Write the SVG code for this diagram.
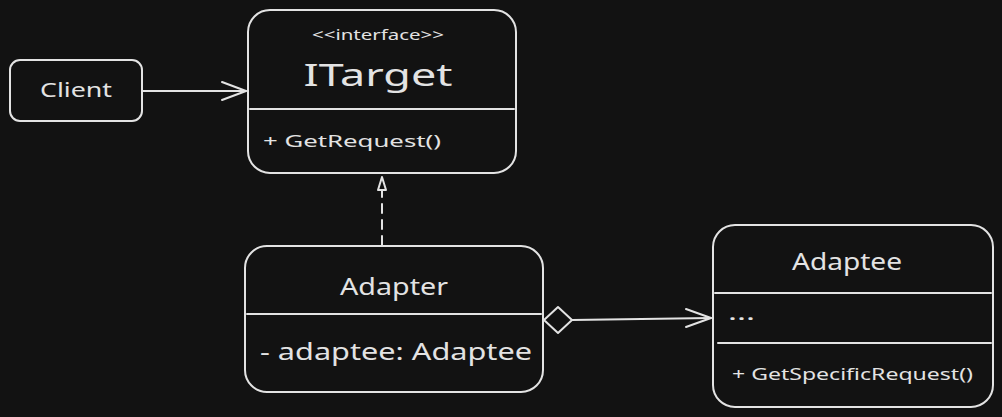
<svg xmlns="http://www.w3.org/2000/svg" width="1002" height="417" viewBox="0 0 1002 417">
<style>
.box{fill:#121212;stroke:#e3e3e3;stroke-width:2}
.ln{stroke:#e3e3e3;stroke-width:2;fill:none;stroke-linecap:round;stroke-linejoin:round}
text{fill:#e3e3e3;font-family:"Noto Sans","Liberation Sans",sans-serif}
.c{text-anchor:middle}
</style>
<rect width="1002" height="417" fill="#121212"/>
<g id="connectors">
<line class="ln" x1="143" y1="91" x2="246" y2="91"/>
<polyline class="ln" points="222,82 246,91 222,100"/>
<line class="ln" x1="382" y1="245" x2="382" y2="190" stroke-dasharray="9,7"/>
<polygon class="ln" points="382,177 378,190 386,190"/>
<polygon class="ln" points="544,320 558,307 572,320 558,333"/>
<line class="ln" x1="572" y1="320" x2="711" y2="318"/>
<polyline class="ln" points="686,309 711,318 686,327"/>
</g>
<g id="client">
<rect class="box" x="10" y="60" width="132" height="61" rx="10"/>
<text class="c" x="76" y="97" font-size="20" textLength="72" lengthAdjust="spacingAndGlyphs">Client</text>
</g>
<g id="itarget">
<rect class="box" x="248" y="10" width="268" height="163" rx="22"/>
<line class="ln" x1="250" y1="109" x2="514" y2="109"/>
<text class="c" x="378" y="40" font-size="14" textLength="132" lengthAdjust="spacingAndGlyphs">&lt;&lt;interface&gt;&gt;</text>
<text class="c" x="378" y="86" font-size="30" textLength="149" lengthAdjust="spacingAndGlyphs">ITarget</text>
<text x="263" y="147" font-size="17" textLength="178" lengthAdjust="spacingAndGlyphs">+ GetRequest()</text>
</g>
<g id="adapter">
<rect class="box" x="245" y="246" width="298" height="146" rx="22"/>
<line class="ln" x1="247" y1="314" x2="541" y2="314"/>
<text class="c" x="394" y="295" font-size="24" textLength="108" lengthAdjust="spacingAndGlyphs">Adapter</text>
<text x="260" y="360" font-size="24" textLength="272" lengthAdjust="spacingAndGlyphs">- adaptee: Adaptee</text>
</g>
<g id="adaptee">
<rect class="box" x="713" y="225" width="280" height="182" rx="22"/>
<line class="ln" x1="715" y1="293" x2="991" y2="293"/>
<line class="ln" x1="718" y1="343" x2="991" y2="343"/>
<text class="c" x="847" y="270" font-size="24" textLength="110" lengthAdjust="spacingAndGlyphs">Adaptee</text>
<text x="728" y="320" font-size="20" textLength="27" lengthAdjust="spacingAndGlyphs">...</text>
<text x="732" y="380" font-size="17" textLength="241" lengthAdjust="spacingAndGlyphs">+ GetSpecificRequest()</text>
</g>
</svg>
